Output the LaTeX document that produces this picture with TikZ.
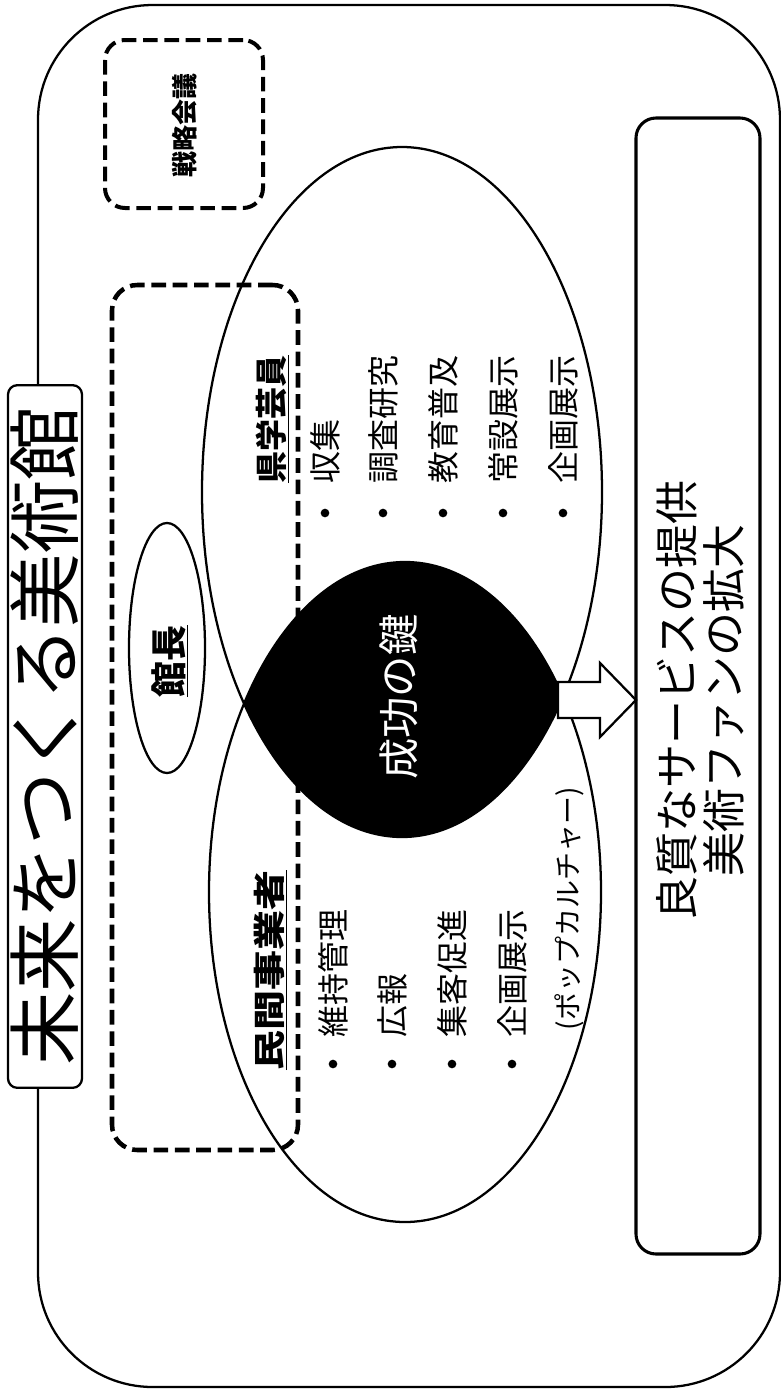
\documentclass[tikz,border=0pt]{standalone}
\usepackage{fontspec}
\setmainfont{Noto Sans CJK JP}
\usetikzlibrary{shapes.geometric,calc}
\begin{document}
\begin{tikzpicture}[x=0.75pt,y=-0.75pt,
  thinline/.style={line width=1.7pt},
  boxnode/.style={draw, inner sep=0pt, outer sep=0pt},
  dashbox/.style={boxnode, line width=3.4pt, dash pattern=on 11pt off 5pt},
  oval/.style={draw, ellipse, thinline, inner sep=0pt, outer sep=0pt},
  vtext/.style={rotate=90, inner sep=0pt, outer sep=0pt},
  dot/.style={circle, fill=black, inner sep=0pt, minimum size=6.5pt},
  itemfont/.style={font=\fontsize{24pt}{28pt}\selectfont}
]
\useasboundingbox (0,0) rectangle (781,1390);

% outer frame
\node[boxnode, thinline, rounded corners=86pt, minimum width=556.5pt, minimum height=1036.5pt] (outer) at (409,696) {};

% title
\node[boxnode, thinline, fill=white, rounded corners=7pt, minimum width=55.5pt, minimum height=527pt] (titlebox) at (45,736.5) {};
\node[vtext, font=\fontsize{55pt}{60pt}\selectfont] (title) at (titlebox.center) {未来をつくる美術館};

% strategy meeting
\node[dashbox, line width=3pt, rounded corners=15pt, minimum width=118.5pt, minimum height=126pt] (senryaku) at (184,124) {};
\node[vtext, font=\fontsize{19.5pt}{22pt}\selectfont\bfseries] (senryakutxt) at (185,125) {戦略会議};

% big dashed group
\node[dashbox, rounded corners=19pt, minimum width=139.5pt, minimum height=648.75pt] (group) at (205,717.5) {};

% lens (intersection)
\begin{scope}
  \clip (402,492) ellipse [x radius=150pt, y radius=258.75pt];
  \fill (405,892) ellipse [x radius=147pt, y radius=247.5pt];
\end{scope}

% ellipses
\node[oval, minimum width=300pt, minimum height=517.5pt] (staff) at (402,492) {};
\node[oval, minimum width=294pt, minimum height=495pt] (private) at (405,892) {};
\node[oval, minimum width=57pt, minimum height=187.5pt] (directoroval) at (167,648) {};
\node[vtext, font=\fontsize{27pt}{30pt}\selectfont\bfseries] (director) at (170,661) {\underline{館長}};

\coordinate (lensL) at (243,697);
\coordinate (lensR) at (560,700);
\node[vtext, text=white, font=\fontsize{31pt}{34pt}\selectfont] (key) at (399,697) {成功の鍵};

% right result box
\node[boxnode, line width=2.3pt, rounded corners=15pt, minimum width=93pt, minimum height=852pt] (rbox) at (698,686) {};
\node[vtext, align=center, font=\fontsize{33pt}{35.5pt}\selectfont] (result) at (700,700) {良質なサービスの提供\\美術ファンの拡大};

% block arrow from lens to result box
\draw[thinline, fill=white, line join=miter] ($(lensR)+(-2,-18)$) -- ++(42,0) -- ++(0,-19) -- (rbox.west |- lensR) -- ($(lensR)+(40,37)$) -- ++(0,-19) -- ($(lensR)+(-2,18)$) -- cycle;

% staff list
\node[vtext, anchor=base west, font=\fontsize{24pt}{28pt}\selectfont\bfseries] (stafftitle) at (283,483) {\underline{県学芸員}};
\node[vtext, itemfont, anchor=base west] (s1) at (337,483) {収集};
\node[vtext, itemfont, anchor=base west] (s2) at (395,483) {調査研究};
\node[vtext, itemfont, anchor=base west] (s3) at (455,483) {教育普及};
\node[vtext, itemfont, anchor=base west] (s4) at (515,483) {常設展示};
\node[vtext, itemfont, anchor=base west] (s5) at (575,483) {企画展示};
\node[dot] (sd1) at (325,513) {};
\node[dot] (sd2) at (383,513) {};
\node[dot] (sd3) at (443,513) {};
\node[dot] (sd4) at (503,513) {};
\node[dot] (sd5) at (563,513) {};

% private list
\node[vtext, anchor=base west, font=\fontsize{24pt}{28pt}\selectfont\bfseries] (privtitle) at (281,1070) {\underline{\scalebox{1.25}[1]{民間事業者}}};
\node[vtext, itemfont, anchor=base west] (p1) at (345,1037) {維持管理};
\node[vtext, itemfont, anchor=base west] (p2) at (404,1037) {広報};
\node[vtext, itemfont, anchor=base west] (p3) at (464,1037) {集客促進};
\node[vtext, itemfont, anchor=base west] (p4) at (524,1037) {企画展示};
\node[vtext, anchor=base west, font=\fontsize{21pt}{24pt}\selectfont] (p5) at (578,1030) {(ポップカルチャー)};
\node[dot] (pd1) at (333,1064) {};
\node[dot] (pd2) at (392,1064) {};
\node[dot] (pd3) at (452,1064) {};
\node[dot] (pd4) at (512,1064) {};
\end{tikzpicture}
\end{document}
